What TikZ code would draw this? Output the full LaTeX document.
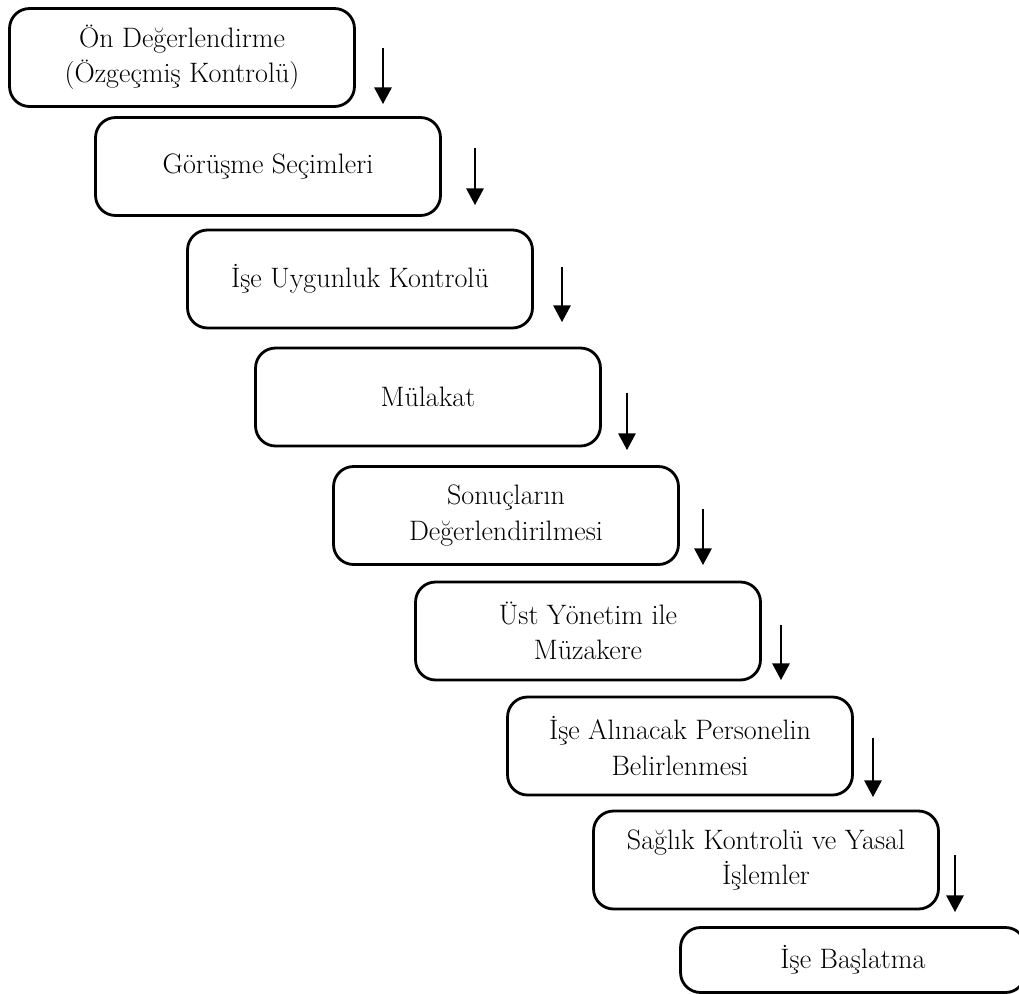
\documentclass[tikz,border=0pt]{standalone}
\usepackage{fontspec}
\usepackage{tikz}
\usetikzlibrary{arrows.meta}

\begin{document}
\begin{tikzpicture}[x=0.02cm,y=-0.02cm]
\tikzstyle{every node}+=[inner sep=0pt]
\tikzstyle{stepbox}=[draw=black, line width=1.6pt, rounded corners=0.4cm, minimum width=6.9cm, minimum height=1.96cm, align=center, font=\fontsize{16}{20}\selectfont]
\tikzstyle{down}=[draw=black, line width=0.8pt, -{Triangle[length=9.5pt,width=10pt]}]
\useasboundingbox (0,0) rectangle (1019,994);
\clip (0,0) rectangle (1019,994);
% steps
\node [stepbox] (b1) at (182,57.5) {Ön Değerlendirme\\(Özgeçmiş Kontrolü)};
\node [stepbox] (b2) at (268,166.5) {Görüşme Seçimleri};
\node [stepbox] (b3) at (360,279) {İşe Uygunluk Kontrolü};
\node [stepbox] (b4) at (428,397) {Mülakat};
\node [stepbox] (b5) at (506,515.5) {Sonuçların\\Değerlendirilmesi};
\node [stepbox] (b6) at (588,631) {Üst Yönetim ile\\Müzakere};
\node [stepbox] (b7) at (680,746) {İşe Alınacak Personelin\\Belirlenmesi};
\node [stepbox] (b8) at (766,860) {Sağlık Kontrolü ve Yasal\\İşlemler};
\node [stepbox, minimum height=1.3cm] (b9) at (853,960) {İşe Başlatma};
% arrows
\coordinate (a1s) at (383,48);  \coordinate (a1e) at (383,104);
\coordinate (a2s) at (475,148); \coordinate (a2e) at (475,205);
\coordinate (a3s) at (562,267); \coordinate (a3e) at (562,322);
\coordinate (a4s) at (627,393); \coordinate (a4e) at (627,450);
\coordinate (a5s) at (703,509); \coordinate (a5e) at (703,565);
\coordinate (a6s) at (781,625); \coordinate (a6e) at (781,680);
\coordinate (a7s) at (873,738); \coordinate (a7e) at (873,797);
\coordinate (a8s) at (955,855); \coordinate (a8e) at (955,912);
\draw [down] (a1s) -- (a1e);
\draw [down] (a2s) -- (a2e);
\draw [down] (a3s) -- (a3e);
\draw [down] (a4s) -- (a4e);
\draw [down] (a5s) -- (a5e);
\draw [down] (a6s) -- (a6e);
\draw [down] (a7s) -- (a7e);
\draw [down] (a8s) -- (a8e);
\end{tikzpicture}
\end{document}
